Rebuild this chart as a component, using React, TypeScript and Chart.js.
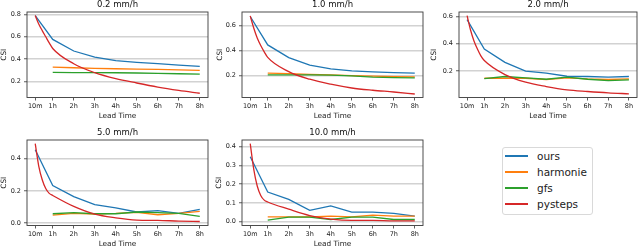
import React, { useEffect, useRef } from 'react';
import { Chart, registerables } from 'chart.js';
Chart.register(...registerables);

const FONT = '"DejaVu Sans", "Liberation Sans", sans-serif';
const TEXT = '#222';

// x axis (lead time in minutes)
const xTickMinutes = [10, 60, 120, 180, 240, 300, 360, 420, 480];
const xTickLabels = ['10m', '1h', '2h', '3h', '4h', '5h', '6h', '7h', '8h'];
const oursMinutes = [10, 60, 120, 180, 240, 300, 360, 420, 480];
const nwpMinutes = [60, 120, 180, 240, 300, 360, 420, 480];
const pystepsMinutes = [10, 20, 30, 40, 50, 60, 120, 180, 240, 300, 360, 420, 480];

const seriesNames = ['ours', 'harmonie', 'gfs', 'pysteps'];
const seriesColors = ['#1f77b4', '#ff7f0e', '#2ca02c', '#d62728'];

// 0.2 mm/h
const ours02 = [0.79, 0.576, 0.472, 0.418, 0.385, 0.37, 0.358, 0.346, 0.334];
const harmonie02 = [0.328, 0.322, 0.317, 0.313, 0.31, 0.307, 0.303, 0.299];
const gfs02 = [0.28, 0.279, 0.278, 0.277, 0.275, 0.272, 0.268, 0.265];
const pysteps02 = [0.79, 0.715, 0.655, 0.6, 0.545, 0.495, 0.358, 0.278, 0.224, 0.185, 0.149, 0.119, 0.093];
const yTicks02 = [0.2, 0.4, 0.6, 0.8];

// 1.0 mm/h
const ours10 = [0.672, 0.445, 0.344, 0.283, 0.253, 0.237, 0.229, 0.224, 0.219];
const harmonie10 = [0.219, 0.215, 0.21, 0.205, 0.2, 0.195, 0.191, 0.189];
const gfs10 = [0.205, 0.206, 0.205, 0.203, 0.198, 0.188, 0.183, 0.181];
const pysteps10 = [0.677, 0.58, 0.5, 0.44, 0.39, 0.345, 0.232, 0.171, 0.131, 0.101, 0.083, 0.069, 0.053];
const yTicks10 = [0.2, 0.4, 0.6];

// 2.0 mm/h
const ours20 = [0.576, 0.361, 0.263, 0.198, 0.183, 0.161, 0.159, 0.154, 0.159];
const harmonie20 = [0.146, 0.146, 0.146, 0.137, 0.149, 0.141, 0.137, 0.141];
const gfs20 = [0.144, 0.159, 0.149, 0.139, 0.154, 0.139, 0.129, 0.134];
const pysteps20 = [0.605, 0.5, 0.42, 0.36, 0.31, 0.276, 0.173, 0.117, 0.085, 0.061, 0.049, 0.039, 0.032];
const yTicks20 = [0.2, 0.4, 0.6];

// 5.0 mm/h
const ours50 = [0.456, 0.233, 0.165, 0.115, 0.094, 0.069, 0.077, 0.06, 0.085];
const harmonie50 = [0.05, 0.06, 0.056, 0.06, 0.067, 0.052, 0.06, 0.073];
const gfs50 = [0.058, 0.065, 0.058, 0.058, 0.069, 0.065, 0.06, 0.042];
const pysteps50 = [0.494, 0.355, 0.27, 0.215, 0.185, 0.172, 0.104, 0.056, 0.033, 0.019, 0.017, 0.0125, 0.01];
const yTicks50 = [0, 0.2, 0.4];

// 10.0 mm/h
const ours100 = [0.346, 0.158, 0.119, 0.061, 0.084, 0.051, 0.051, 0.044, 0.03];
const harmonie100 = [0.026, 0.026, 0.026, 0.03, 0.026, 0.035, 0.03, 0.03];
const gfs100 = [0.009, 0.025, 0.025, 0.012, 0.025, 0.025, 0.012, 0.012];
const pysteps100 = [0.416, 0.28, 0.19, 0.14, 0.115, 0.105, 0.067, 0.033, 0.014, 0.007, 0.007, 0.005, 0.005];
const yTicks100 = [0, 0.1, 0.2, 0.3, 0.4];

type PanelDef = {
  title: string;
  series: number[][];
  yMin: number;
  yMax: number;
  yTicks: number[];
  left: number; // canvas left
  top: number; // canvas top
  yw: number; // y-axis width
  frameW: number;
  csiPad: number;
};

const panels: PanelDef[] = [
  { title: '0.2 mm/h', series: [ours02, harmonie02, gfs02, pysteps02], yMin: 0.055, yMax: 0.822, yTicks: yTicks02, left: 0, top: 0, yw: 27, frameW: 181, csiPad: 0 },
  { title: '1.0 mm/h', series: [ours10, harmonie10, gfs10, pysteps10], yMin: 0.025, yMax: 0.708, yTicks: yTicks10, left: 215, top: 0, yw: 27, frameW: 181, csiPad: 0.6 },
  { title: '2.0 mm/h', series: [ours20, harmonie20, gfs20, pysteps20], yMin: 0.005, yMax: 0.632, yTicks: yTicks20, left: 430, top: 0, yw: 29, frameW: 178, csiPad: 0 },
  { title: '5.0 mm/h', series: [ours50, harmonie50, gfs50, pysteps50], yMin: -0.015, yMax: 0.517, yTicks: yTicks50, left: 0, top: 128, yw: 27, frameW: 181, csiPad: 0 },
  { title: '10.0 mm/h', series: [ours100, harmonie100, gfs100, pysteps100], yMin: -0.02, yMax: 0.435, yTicks: yTicks100, left: 215, top: 128, yw: 27, frameW: 181, csiPad: 0 },
];

const CANVAS_H = 121;
const TOP_PAD = 12;
const X_AXIS_H = 23.5;
const RIGHT_PAD = 3;

function PanelChart({ p }: { p: PanelDef }) {
  const ref = useRef<HTMLCanvasElement>(null);
  const w = p.yw + p.frameW + RIGHT_PAD;
  useEffect(() => {
    const canvas = ref.current!;
    const xsFor = [oursMinutes, nwpMinutes, nwpMinutes, pystepsMinutes];
    const framePlugin = {
      id: 'frame',
      afterDatasetsDraw(chart: any) {
        const { ctx, chartArea } = chart;
        ctx.save();
        ctx.strokeStyle = '#3a3a3a';
        ctx.lineWidth = 0.9;
        ctx.strokeRect(chartArea.left, chartArea.top, chartArea.right - chartArea.left, chartArea.bottom - chartArea.top);
        ctx.restore();
      },
    };
    const titlePlugin = {
      id: 'panelTitle',
      afterDraw(chart: any) {
        const { ctx, chartArea } = chart;
        ctx.save();
        ctx.font = `8.5px ${FONT}`;
        ctx.fillStyle = '#111';
        ctx.textAlign = 'center';
        ctx.textBaseline = 'middle';
        ctx.fillText(p.title, (chartArea.left + chartArea.right) / 2, chartArea.top - 7);
        ctx.restore();
      },
    };
    const chart = new Chart(canvas, {
      type: 'line',
      data: {
        datasets: p.series.map((vals, si) => ({
          label: seriesNames[si],
          data: xsFor[si].map((m, i) => ({ x: m, y: vals[i] })),
          borderColor: seriesColors[si],
          backgroundColor: seriesColors[si],
          borderWidth: 1.3,
          pointRadius: 0,
          fill: false,
          tension: 0,
          cubicInterpolationMode: si === 3 ? 'monotone' : 'default',
          order: 4 - si,
        })),
      },
      options: {
        animation: false,
        responsive: false,
        maintainAspectRatio: false,
        devicePixelRatio: 1,
        events: [],
        layout: { padding: { top: TOP_PAD, right: RIGHT_PAD, left: 0, bottom: 0 } },
        plugins: { legend: { display: false }, tooltip: { enabled: false }, title: { display: false } },
        scales: {
          x: {
            type: 'linear',
            min: -13.5,
            max: 503.5,
            afterBuildTicks: (s: any) => {
              s.ticks = xTickMinutes.map((v) => ({ value: v }));
            },
            afterFit: (s: any) => {
              s.height = X_AXIS_H;
            },
            ticks: {
              autoSkip: false,
              maxRotation: 0,
              minRotation: 0,
              padding: 2,
              color: TEXT,
              font: { family: FONT, size: 6.5 },
              callback: (_v: any, i: number) => xTickLabels[i],
            },
            grid: { drawOnChartArea: false, drawTicks: true, tickLength: 3, tickColor: '#333', tickWidth: 0.8 },
            border: { display: false },
            title: { display: true, text: 'Lead Time', color: TEXT, font: { family: FONT, size: 7.3 }, padding: { top: 0, bottom: 1 } },
          },
          y: {
            type: 'linear',
            min: p.yMin,
            max: p.yMax,
            afterBuildTicks: (s: any) => {
              s.ticks = p.yTicks.map((v) => ({ value: v }));
            },
            afterFit: (s: any) => {
              s.width = p.yw;
            },
            ticks: {
              padding: 3,
              color: TEXT,
              font: { family: FONT, size: 6.5 },
              callback: (v: any) => Number(v).toFixed(1),
            },
            grid: { color: '#d2d2d2', lineWidth: 1.5, drawTicks: true, tickLength: 3, tickColor: '#333', tickWidth: 0.8 },
            border: { display: false },
            title: { display: true, text: 'CSI', color: TEXT, font: { family: FONT, size: 7.3 }, padding: { top: p.csiPad, bottom: 0 } },
          },
        },
      } as any,
      plugins: [framePlugin, titlePlugin],
    });
    return () => chart.destroy();
  }, []);
  return (
    <canvas
      ref={ref}
      width={w}
      height={CANVAS_H}
      style={{ position: 'absolute', left: p.left, top: p.top, width: w, height: CANVAS_H }}
    />
  );
}

const legendRowsY = [156, 172, 188, 204];

export default function App() {
  return (
    <div style={{ position: 'absolute', left: 0, top: 0, width: 640, height: 247, overflow: 'hidden', background: '#fff' }}>
      {panels.map((p, i) => (
        <PanelChart key={i} p={p} />
      ))}
      <div
        style={{
          position: 'absolute',
          left: 502,
          top: 147,
          width: 91,
          height: 68,
          boxSizing: 'border-box',
          border: '1px solid #d9d9d9',
          borderRadius: 3,
        }}
      />
      {seriesNames.map((n, i) => (
        <React.Fragment key={n}>
          <div
            style={{
              position: 'absolute',
              left: 505,
              top: legendRowsY[i] - 0.75,
              width: 23,
              height: 1.5,
              background: seriesColors[i],
            }}
          />
          <div
            style={{
              position: 'absolute',
              left: 537,
              top: legendRowsY[i] - 7,
              height: 14,
              lineHeight: '14px',
              fontFamily: FONT,
              fontSize: 10.5,
              color: TEXT,
              whiteSpace: 'nowrap',
            }}
          >
            {n}
          </div>
        </React.Fragment>
      ))}
    </div>
  );
}
